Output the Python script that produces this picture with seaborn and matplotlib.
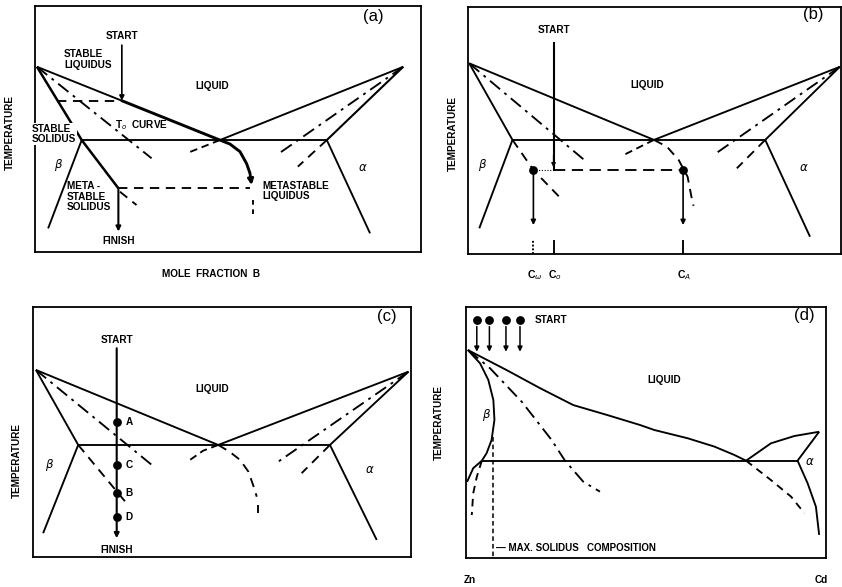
import matplotlib
matplotlib.use("Agg")
import matplotlib.pyplot as plt
import seaborn as sns

sns.set_theme(style="white")
plt.rcParams["font.family"] = ["Liberation Sans", "DejaVu Sans"]
plt.rcParams["mathtext.fontset"] = "dejavusans"

# ---------------------------------------------------------------------------
# Schematic phase-diagram traces: (composition %, relative temperature %)
# ---------------------------------------------------------------------------
# (a) stable / metastable liquidus and solidus
A_LIQ_THIN = [(0.5, 75.3), (22.5, 61.5)]
A_LIQ_PATH = [(22.5, 61.5), (47.9, 45.5)]
A_LIQ_R = [(47.9, 45.5), (95.4, 75.3)]
A_SOL_B = [(0.5, 75.3), (12.1, 45.5), (21.6, 25.9)]
A_SOL_A = [(95.4, 75.3), (75.6, 45.5)]
A_EUT = [(12.1, 45.5), (75.6, 45.5)]
A_SOLVUS_B = [(12.1, 45.5), (3.4, 9.6)]
A_SOLVUS_A = [(75.6, 45.5), (86.8, 7.6)]
A_T0_B = [(0.5, 75.3), (30.2, 38.1)]
A_T0_A = [(95.4, 75.3), (62.6, 39.4)]
A_LIQ_EXT = [(47.9, 45.5), (40.2, 40.7)]
A_SOL_EXT_A = [(75.6, 45.5), (68.1, 34.7)]
A_SOL_EXT_B = [(22.0, 24.5), (26.3, 19.1)]
A_META_LIQ = [(47.9, 45.5), (50.5, 43.9), (53.1, 40.8), (54.8, 36.0), (55.7, 32.0), (56.1, 27.2)]
A_META_TAIL = [(56.5, 21.0), (56.5, 15.5)]
A_TIE_TOP = [(5.7, 61.5), (22.5, 61.5)]
A_TIE_LOW = [(21.6, 25.9), (55.7, 25.9)]
A_START = [(22.5, 84.1), (22.5, 61.5)]
A_FINISH = [(21.6, 25.9), (21.6, 8.3)]

# (b) partitionless vs. partitioned freezing of C_o
B_LIQ = [(0.4, 77.2), (49.9, 46.2), (99.7, 75.8)]
B_SOL_B = [(0.4, 77.2), (12.0, 46.2)]
B_SOL_A = [(99.7, 75.8), (79.7, 46.2)]
B_EUT = [(12.0, 46.2), (79.7, 46.2)]
B_SOLVUS_B = [(12.0, 46.2), (3.1, 10.4)]
B_SOLVUS_A = [(79.7, 46.2), (91.7, 7.0)]
B_T0_B = [(0.4, 77.2), (31.2, 38.1)]
B_T0_A = [(99.7, 75.8), (65.9, 40.1)]
B_SOL_EXT_B = [(12.0, 46.2), (17.6, 34.0), (24.5, 23.2)]
B_SOL_EXT_A = [(79.7, 46.2), (72.1, 34.7)]
B_LIQ_EXT = [(49.9, 46.2), (41.8, 40.1)]
B_META_LIQ = [(49.9, 46.2), (53.4, 43.4), (56.5, 38.1), (58.9, 31.3), (60.1, 21.9), (60.5, 19.5)]
B_START = [(23.0, 86.0), (23.0, 34.0)]
B_TIE = [(23.0, 34.0), (57.7, 34.0)]
B_TIE_DOT = [(17.6, 34.0), (23.0, 34.0)]
B_DOT_X = [17.6, 57.7]
B_DOT_Y = [34.0, 34.0]
B_DROP_END = 11.7
B_TICK_X = [17.6, 23.0, 57.7]
B_TICK_LABELS = [r"C$_\omega$", r"C$_o$", r"C$_A$"]

# (c) cooling path through points A, C, B, D
C_LIQ = [(0.7, 74.7), (49.0, 44.7), (99.4, 74.0)]
C_SOL_B = [(0.7, 74.7), (11.9, 44.7)]
C_SOL_A = [(99.4, 74.0), (78.6, 44.7)]
C_EUT = [(11.9, 44.7), (78.6, 44.7)]
C_SOLVUS_B = [(11.9, 44.7), (2.6, 9.4)]
C_SOLVUS_A = [(78.6, 44.7), (91.0, 6.7)]
C_T0_B = [(0.7, 74.7), (31.4, 36.7)]
C_T0_A = [(99.4, 74.0), (64.9, 38.0)]
C_SOL_EXT_B = [(11.9, 44.7), (24.7, 21.4)]
C_SOL_EXT_A = [(78.6, 44.7), (71.1, 33.4)]
C_LIQ_EXT = [(49.0, 44.7), (45.0, 42.4), (41.5, 38.7)]
C_META_LIQ = [(49.0, 44.7), (52.0, 42.0), (54.8, 38.7), (57.0, 34.0), (58.7, 26.7), (59.2, 24.0)]
C_META_TAIL = [(59.6, 20.7), (59.6, 17.5)]
C_PATH = [(22.1, 83.4), (22.1, 7.4)]
C_POINT_NAMES = ["A", "C", "B", "D"]
C_POINT_Y = [54.0, 36.7, 25.4, 16.0]
C_POINT_X = 22.1

# (d) Zn-Cd
D_LIQ = [(0.5, 82.8), (11.3, 74.8), (20.6, 67.6), (29.8, 60.9), (39.1, 57.0),
         (48.3, 53.0), (52.3, 51.0), (61.6, 47.7), (69.0, 44.4), (74.5, 41.1), (77.8, 38.8)]
D_SOL_B = [(0.5, 82.8), (3.9, 77.5), (6.2, 70.9), (7.6, 62.9), (7.9, 55.0),
           (7.1, 47.0), (5.7, 41.7), (4.4, 38.8)]
D_SOLVUS_B = [(4.4, 38.8), (2.0, 35.8), (0.3, 30.4)]
D_EUT = [(4.4, 38.8), (92.1, 38.8)]
D_META_B = [(4.4, 38.8), (3.0, 32.4), (2.0, 25.8), (1.6, 17.2)]
D_T0 = [(0.6, 82.8), (6.7, 75.5), (15.5, 62.2), (23.8, 47.0), (27.5, 38.8),
        (32.6, 30.4), (37.2, 26.5)]
D_LIQ_A = [(77.8, 38.8), (84.7, 45.7), (91.2, 48.6), (98.1, 50.3)]
D_SOL_A = [(98.1, 50.3), (92.1, 38.8)]
D_SOLVUS_A = [(92.1, 38.8), (94.9, 29.8), (97.2, 20.5), (98.1, 9.3)]
D_META_A = [(77.8, 38.8), (84.7, 31.1), (90.3, 24.5), (94.0, 17.9)]
D_MAX_SOLIDUS = [(7.6, 48.3), (7.6, 0.0)]
D_START_X = [3.0, 6.5, 11.1, 15.0]
D_START_Y = 94.8
D_ARROW_TOP = 92.1
D_ARROW_END = 82.1

# panel boxes in figure pixels: left, right, top, bottom
FIG_W, FIG_H = 842, 587
BOXES = {
    "a": (35.0, 421.0, 6.0, 252.0),
    "b": (467.7, 841.0, 7.0, 254.0),
    "c": (33.3, 410.7, 306.7, 556.7),
    "d": (466.0, 826.0, 306.7, 558.3),
}

LW = 1.35
DASH = (5.0, 3.5)
SHORT_DASH = (4.0, 2.5)
DASHDOT = (7.0, 3.0, 1.5, 3.0)
FS = 7.2
WEIGHT = "semibold"


def trace(ax, pts, lw=LW, dashes=None):
    xs = [p[0] for p in pts]
    ys = [p[1] for p in pts]
    sns.lineplot(x=xs, y=ys, sort=False, estimator=None, color="black",
                 lw=lw, ax=ax, legend=False)
    line = ax.lines[-1]
    line.set_solid_capstyle("butt")
    if dashes is not None:
        line.set_dashes(dashes)
    line.set_clip_on(False)


def arrow(ax, start, end, lw=1.1, scale=7):
    ax.annotate("", xy=end, xytext=start,
                arrowprops=dict(arrowstyle="-|>", color="black", lw=lw,
                                mutation_scale=scale, shrinkA=0, shrinkB=0))


def dots(ax, xs, ys, s=30):
    sns.scatterplot(x=xs, y=ys, color="black", s=s, ax=ax, legend=False,
                    edgecolor="black", linewidth=0, zorder=5)


def label(ax, x, y, s, size=FS, **kw):
    kw.setdefault("ha", "center")
    kw.setdefault("va", "center")
    kw.setdefault("fontweight", WEIGHT)
    ax.text(x, y, s, fontsize=size, color="black", clip_on=False, **kw)


fig = plt.figure(figsize=(FIG_W / 100, FIG_H / 100), dpi=100)
axes = {}
for key, (l, r, t, b) in BOXES.items():
    ax = fig.add_axes([l / FIG_W, 1 - b / FIG_H, (r - l) / FIG_W, (b - t) / FIG_H])
    ax.set_xlim(0, 100)
    ax.set_ylim(0, 100)
    ax.set_xticks([])
    ax.set_yticks([])
    ax.set_xlabel("")
    ax.set_ylabel("")
    for sp in ax.spines.values():
        sp.set_color("black")
        sp.set_linewidth(1.3)
    axes[key] = ax

# ----------------------------- panel (a) ----------------------------------
ax = axes["a"]
trace(ax, A_LIQ_THIN)
trace(ax, A_LIQ_PATH, lw=2.1)
trace(ax, A_LIQ_R)
trace(ax, A_SOL_B, lw=1.8)
trace(ax, A_SOL_A, lw=1.5)
trace(ax, A_EUT)
trace(ax, A_SOLVUS_B)
trace(ax, A_SOLVUS_A)
trace(ax, A_T0_B, dashes=DASHDOT)
trace(ax, A_T0_A, dashes=DASHDOT)
trace(ax, A_LIQ_EXT, dashes=SHORT_DASH)
trace(ax, A_SOL_EXT_A, dashes=DASH)
trace(ax, A_SOL_EXT_B, dashes=DASH)
trace(ax, A_META_LIQ[:-1], lw=2.1)
arrow(ax, A_META_LIQ[-2], A_META_LIQ[-1], lw=2.0, scale=8)
trace(ax, A_META_TAIL, dashes=(2.5, 2.5))
trace(ax, A_TIE_TOP, dashes=DASH)
trace(ax, A_TIE_LOW, dashes=DASH)
arrow(ax, A_START[0], A_START[1], lw=1.2)
arrow(ax, A_FINISH[0], A_FINISH[1], lw=1.5)
label(ax, 87.6, 95.7, "(a)", size=12, fontweight="normal")
label(ax, 22.5, 88.0, "START")
label(ax, 7.5, 78.2, "STABLE\nLIQUIDUS", ha="left", linespacing=1.1)
label(ax, 45.8, 67.5, "LIQUID")
label(ax, 20.6, 51.6, r"T$_o$  CURVE", ha="left")
label(ax, -0.8, 48.0, "STABLE\nSOLIDUS", ha="left", linespacing=1.1,
      bbox=dict(facecolor="white", edgecolor="none", pad=0.6))
label(ax, 6.0, 35.4, r"$\beta$", size=8.5)
label(ax, 85.0, 34.0, r"$\alpha$", size=8.5)
label(ax, 8.3, 22.4, "META -\nSTABLE\nSOLIDUS", ha="left", linespacing=1.05)
label(ax, 58.8, 24.8, "METASTABLE\nLIQUIDUS", ha="left", linespacing=1.1)
label(ax, 21.6, 4.6, "FINISH")
label(ax, 45.5, -9.0, "MOLE  FRACTION  B", size=7.2)

# ----------------------------- panel (b) ----------------------------------
ax = axes["b"]
trace(ax, B_LIQ)
trace(ax, B_SOL_B)
trace(ax, B_SOL_A)
trace(ax, B_EUT)
trace(ax, B_SOLVUS_B)
trace(ax, B_SOLVUS_A)
trace(ax, B_T0_B, dashes=DASHDOT)
trace(ax, B_T0_A, dashes=DASHDOT)
trace(ax, B_SOL_EXT_B, dashes=DASH)
trace(ax, B_SOL_EXT_A, dashes=DASH)
trace(ax, B_LIQ_EXT, dashes=SHORT_DASH)
trace(ax, B_META_LIQ, dashes=DASH)
trace(ax, B_START, lw=1.5)
arrow(ax, (B_START[1][0], 40.0), (B_START[1][0], 35.0), lw=1.0, scale=6)
trace(ax, B_TIE, dashes=(6.0, 3.5))
trace(ax, B_TIE_DOT, lw=0.8, dashes=(1.0, 1.5))
dots(ax, B_DOT_X, B_DOT_Y, s=40)
for x in B_DOT_X:
    arrow(ax, (x, 33.0), (x, B_DROP_END), lw=1.2)
for i, (x, s) in enumerate(zip(B_TICK_X, B_TICK_LABELS)):
    trace(ax, [(x, 0.0), (x, 5.7)], dashes=(1.0, 1.0) if i == 0 else None)
    label(ax, x + 0.3, -8.5, s, size=7.6)
label(ax, 92.5, 96.8, "(b)", size=12, fontweight="normal")
label(ax, 23.1, 90.7, "START")
label(ax, 48.1, 68.4, "LIQUID")
label(ax, 4.0, 36.0, r"$\beta$", size=8.5)
label(ax, 89.9, 34.7, r"$\alpha$", size=8.5)

# ----------------------------- panel (c) ----------------------------------
ax = axes["c"]
trace(ax, C_LIQ)
trace(ax, C_SOL_B)
trace(ax, C_SOL_A)
trace(ax, C_EUT)
trace(ax, C_SOLVUS_B)
trace(ax, C_SOLVUS_A)
trace(ax, C_T0_B, dashes=DASHDOT)
trace(ax, C_T0_A, dashes=DASHDOT)
trace(ax, C_SOL_EXT_B, dashes=DASH)
trace(ax, C_SOL_EXT_A, dashes=DASH)
trace(ax, C_LIQ_EXT, dashes=SHORT_DASH)
trace(ax, C_META_LIQ, dashes=DASH)
trace(ax, C_META_TAIL)
arrow(ax, C_PATH[0], C_PATH[1], lw=1.5)
dots(ax, [C_POINT_X] * len(C_POINT_Y), C_POINT_Y, s=40)
for name, y in zip(C_POINT_NAMES, C_POINT_Y):
    label(ax, C_POINT_X + 2.4, y, name, ha="left")
label(ax, 93.6, 96.0, "(c)", size=12, fontweight="normal")
label(ax, 22.1, 86.8, "START")
label(ax, 22.1, 2.7, "FINISH")
label(ax, 47.3, 67.0, "LIQUID")
label(ax, 4.4, 36.7, r"$\beta$", size=8.5)
label(ax, 89.2, 34.7, r"$\alpha$", size=8.5)

# ----------------------------- panel (d) ----------------------------------
ax = axes["d"]
trace(ax, D_LIQ)
trace(ax, D_SOL_B)
trace(ax, D_SOLVUS_B)
trace(ax, D_EUT)
trace(ax, D_META_B, dashes=(4.0, 3.0))
trace(ax, D_T0, dashes=DASHDOT)
trace(ax, D_LIQ_A)
trace(ax, D_SOL_A)
trace(ax, D_SOLVUS_A)
trace(ax, D_META_A, dashes=(4.0, 3.0))
trace(ax, D_MAX_SOLIDUS, lw=1.1, dashes=(3.0, 2.0))
dots(ax, D_START_X, [D_START_Y] * len(D_START_X), s=40)
for x in D_START_X:
    arrow(ax, (x, D_ARROW_TOP), (x, D_ARROW_END), lw=1.1, scale=7)
label(ax, 19.0, D_START_Y, "START", ha="left")
label(ax, 94.0, 96.6, "(d)", size=12, fontweight="normal")
label(ax, 55.1, 70.7, "LIQUID")
label(ax, 5.6, 57.0, r"$\beta$", size=8.5)
label(ax, 95.4, 38.4, r"$\alpha$", size=8.5)
label(ax, 8.4, 4.0, "— MAX. SOLIDUS   COMPOSITION", ha="left", size=7)
label(ax, 1.0, -8.6, "Zn")
label(ax, 98.6, -8.6, "Cd")

# rotated temperature axis captions
for (px, py) in [(10.0, 132.0), (452.7, 133.0), (16.7, 460.0), (439.3, 423.0)]:
    fig.text(px / FIG_W, 1 - py / FIG_H, "TEMPERATURE", rotation=90,
             ha="center", va="center", fontsize=7.2, fontweight=WEIGHT,
             color="black")

fig.savefig("out.png", dpi=100, facecolor="white")
